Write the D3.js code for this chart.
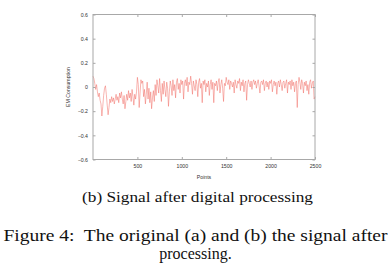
<!DOCTYPE html>
<html><head><meta charset="utf-8">
<script src="https://cdn.jsdelivr.net/npm/d3@7"></script>
<style>body{margin:0;background:#fff}svg{display:block}
.serif{font-family:"Liberation Serif","Times New Roman",serif}
.sans{font-family:"Liberation Sans",Arial,sans-serif}</style>
</head><body>
<svg id="c" width="388" height="273"></svg>
<script>
const xTicks = [500, 1000, 1500, 2000, 2500];
const yTicks = [-0.6, -0.4, -0.2, 0, 0.2, 0.4, 0.6];
const step = 10;
const signal = [
0.09,0.07,0.03,-0.02,0.02,-0.04,-0.08,-0.05,-0.11,-0.14,
-0.24,-0.16,-0.07,-0.01,0.01,-0.06,-0.15,-0.23,-0.17,-0.1,
-0.13,-0.08,-0.12,-0.09,-0.14,-0.1,-0.06,-0.11,-0.08,-0.13,
-0.05,-0.09,-0.04,-0.1,-0.14,-0.07,-0.18,-0.12,-0.06,-0.11,
-0.03,-0.09,-0.05,-0.12,-0.02,-0.08,-0.15,-0.06,-0.1,-0.04,
0.08,0.02,-0.17,-0.05,0.06,0.03,0.05,-0.08,-0.02,-0.14,
-0.06,0.04,-0.1,-0.01,-0.13,-0.04,-0.18,-0.09,-0.03,-0.12,
0.02,-0.07,0.06,0.01,-0.05,0.07,-0.03,-0.12,0.03,-0.06,
0.05,-0.02,-0.08,0.04,-0.01,-0.16,-0.04,0.05,0.01,-0.07,
0.06,-0.03,0.02,-0.09,0.04,0.07,-0.02,0.03,-0.05,0.06,
0.02,0.05,-0.1,0.03,0.06,0.01,0.08,-0.04,0.04,0.02,
0.09,0.03,-0.06,0.05,0.01,-0.03,0.06,0.02,-0.08,0.04,
0.07,-0.01,0.03,-0.13,0.05,0.02,0.06,-0.04,0.03,0.0,
0.05,-0.07,0.02,0.06,-0.02,0.04,-0.13,0.03,0.01,0.05,
-0.03,0.04,0.07,-0.05,0.02,0.06,-0.01,-0.12,0.03,0.01,
0.08,0.04,0.02,0.06,-0.02,0.05,0.03,0.0,0.04,-0.05,
0.06,0.02,-0.01,0.05,0.03,0.07,-0.03,0.04,0.01,0.06,
-0.04,0.03,0.05,-0.11,0.02,0.06,0.03,0.0,0.05,-0.02,
0.04,0.06,0.02,0.05,-0.01,0.03,0.06,0.01,-0.05,0.04,
0.05,0.02,0.06,-0.03,0.03,0.05,0.0,0.04,-0.02,0.05,
0.03,0.06,-0.04,0.02,0.05,0.01,0.04,-0.06,0.03,0.05,
0.0,0.06,0.02,-0.03,0.04,0.05,-0.01,0.03,0.06,-0.05,
0.04,0.02,0.05,-0.02,0.06,0.01,0.04,-0.04,0.03,0.05,
-0.17,0.02,0.08,0.04,-0.02,0.06,0.03,-0.05,0.04,0.01,
0.05,-0.03,0.02,-0.06,0.04,0.06,-0.01,0.03,0.05,-0.1,-0.08
];
const yLabel = "EM Consumption";
const xLabel = "Points";
const subCaption = "(b) Signal after digital processing";
const figCaption = ["Figure 4:  The original (a) and (b) the signal after", "processing."];

const svg = d3.select("#c");
const L = 93, R = 315, T = 14.5, B = 159.5;
const x = d3.scaleLinear().domain([0, 2500]).range([L, R]);
const y = d3.scaleLinear().domain([-0.6, 0.6]).range([B, T]);
const frame = "#a8a8a8";

const line = d3.line().x((d, i) => x(i * step)).y(d => y(d));
svg.append("path").datum(signal).attr("d", line)
  .attr("fill", "none").attr("stroke", "#f06a62").attr("stroke-width", 0.5)
  .attr("stroke-linejoin", "round");

svg.append("rect").attr("x", L).attr("y", T).attr("width", R - L).attr("height", B - T)
  .attr("fill", "none").attr("stroke", frame).attr("stroke-width", 1);

const gl = svg.append("g").attr("transform", `translate(${L},0)`)
  .call(d3.axisLeft(y).tickValues(yTicks).tickSize(-2.5).tickPadding(5).tickFormat(d3.format("")));
const gr = svg.append("g").attr("transform", `translate(${R},0)`)
  .call(d3.axisRight(y).tickValues(yTicks).tickSize(-2.5).tickFormat(""));
const gb = svg.append("g").attr("transform", `translate(0,${B})`)
  .call(d3.axisBottom(x).tickValues(xTicks).tickSize(-2.5).tickPadding(4.5).tickFormat(d3.format("")));
const gt = svg.append("g").attr("transform", `translate(0,${T})`)
  .call(d3.axisTop(x).tickValues(xTicks).tickSize(-2.5).tickFormat(""));
[gl, gr, gb, gt].forEach(g => {
  g.attr("font-family", null).attr("font-size", null);
  g.select(".domain").remove();
  g.selectAll("line").attr("stroke", frame);
  g.selectAll("text").attr("class", "sans").attr("font-size", 5.2).attr("fill", "#333");
});

svg.append("text").attr("class", "sans").attr("transform", `translate(70,${y(0)}) rotate(-90)`)
  .attr("text-anchor", "middle").attr("font-size", 5.2).attr("fill", "#333").text(yLabel);
svg.append("text").attr("class", "sans").attr("x", (L + R) / 2).attr("y", 179).attr("text-anchor", "middle")
  .attr("font-size", 5.2).attr("fill", "#333").text(xLabel);

svg.append("text").attr("class", "serif").attr("x", 197.5).attr("y", 202).attr("text-anchor", "middle")
  .attr("font-size", 14.5).attr("fill", "#111")
  .attr("textLength", 231).attr("lengthAdjust", "spacingAndGlyphs").text(subCaption);
svg.append("text").attr("class", "serif").attr("x", 195.5).attr("y", 241).attr("text-anchor", "middle")
  .attr("font-size", 16).attr("fill", "#111").style("white-space", "pre")
  .attr("textLength", 384).attr("lengthAdjust", "spacingAndGlyphs").text(figCaption[0]);
svg.append("text").attr("class", "serif").attr("x", 195.5).attr("y", 259).attr("text-anchor", "middle")
  .attr("font-size", 16).attr("fill", "#111").text(figCaption[1]);
</script>
</body></html>
